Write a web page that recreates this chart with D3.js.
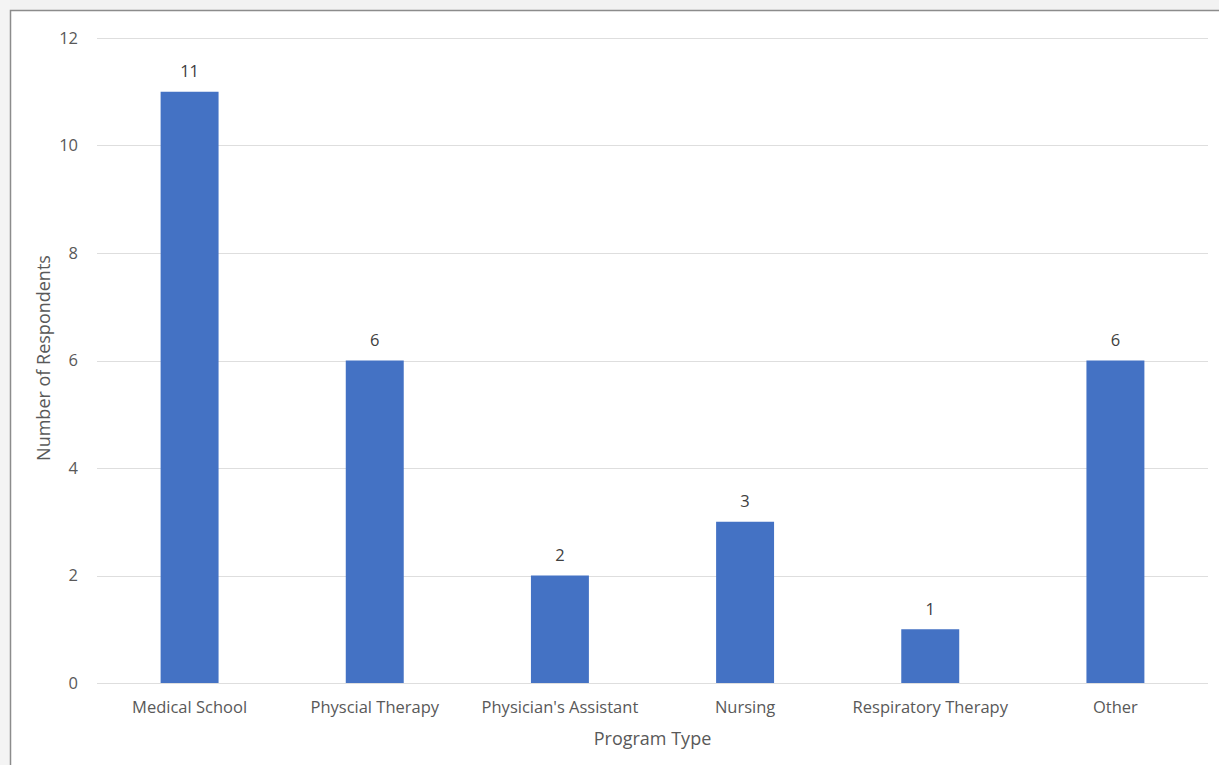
<!DOCTYPE html>
<html>
<head>
<meta charset="utf-8">
<script src="https://cdn.jsdelivr.net/npm/d3@7"></script>
<style>
  html, body { margin: 0; padding: 0; background: #ffffff; }
  svg { display: block; }
</style>
</head>
<body>
<script>
const categories = ["Medical School", "Physcial Therapy", "Physician's Assistant", "Nursing", "Respiratory Therapy", "Other"];
const values = [11, 6, 2, 3, 1, 6];
const yTicks = [0, 2, 4, 6, 8, 10, 12];
const xTitle = "Program Type";
const yTitle = "Number of Respondents";

const W = 1219, H = 765;
const margin = { left: 97, right: 11, top: 38, bottom: 82 };
const font = "'Open Sans', sans-serif";

const svg = d3.select("body").append("svg").attr("width", W).attr("height", H);

// shadow + border frame
svg.append("rect").attr("x", 0).attr("y", 0).attr("width", W).attr("height", 10).attr("fill", "#f2f2f2");
svg.append("rect").attr("x", 0).attr("y", 0).attr("width", 10).attr("height", H).attr("fill", "#f4f4f4");
svg.append("rect").attr("x", 10.5).attr("y", 10.5).attr("width", W + 20).attr("height", H + 20)
  .attr("fill", "#ffffff").attr("stroke", "#8c8c8c").attr("stroke-width", 1.5);

const x = d3.scaleBand().domain(categories).range([margin.left, W - margin.right]).paddingInner(0.687).paddingOuter(0.3435);
const y = d3.scaleLinear().domain([0, 12]).range([H - margin.bottom, margin.top]);

// gridlines
svg.append("g").selectAll("line").data(yTicks).join("line")
  .attr("x1", margin.left).attr("x2", W - margin.right)
  .attr("y1", d => Math.round(y(d)) + 0.5).attr("y2", d => Math.round(y(d)) + 0.5)
  .attr("stroke", "#dedede").attr("stroke-width", 1);

// y axis labels
const yAxis = d3.axisLeft(y).tickValues(yTicks).tickSize(0).tickPadding(0);
const gy = svg.append("g").attr("transform", `translate(${margin.left - 19},0)`).call(yAxis);
gy.select(".domain").remove();
gy.selectAll("text").attr("font-family", font).attr("font-size", 16.5).attr("fill", "#595959");

// bars
svg.append("g").selectAll("rect").data(values).join("rect")
  .attr("x", (d, i) => x(categories[i]))
  .attr("width", x.bandwidth())
  .attr("y", d => y(d))
  .attr("height", d => y(0) - y(d))
  .attr("fill", "#4472c4");

// data labels
svg.append("g").selectAll("text").data(values).join("text")
  .attr("x", (d, i) => x(categories[i]) + x.bandwidth() / 2)
  .attr("y", d => y(d) - 20)
  .attr("dy", "0.32em")
  .attr("text-anchor", "middle")
  .attr("font-family", font).attr("font-size", 16.5).attr("fill", "#404040")
  .text(d => d);

// x axis labels
const xAxis = d3.axisBottom(x).tickSize(0).tickPadding(0);
const gx = svg.append("g").attr("transform", `translate(0,708)`).call(xAxis);
gx.select(".domain").remove();
gx.selectAll("text").attr("y", 0).attr("dy", "0.32em")
  .attr("font-family", font).attr("font-size", 16.5).attr("fill", "#595959");

// axis titles
svg.append("text").attr("x", (margin.left + W - margin.right) / 2).attr("y", 739)
  .attr("dy", "0.32em")
  .attr("text-anchor", "middle")
  .attr("font-family", font).attr("font-size", 18).attr("fill", "#595959").text(xTitle);
svg.append("text").attr("transform", `translate(44,358) rotate(-90)`)
  .attr("dy", "0.32em")
  .attr("text-anchor", "middle")
  .attr("font-family", font).attr("font-size", 18).attr("fill", "#595959").text(yTitle);
</script>
</body>
</html>
